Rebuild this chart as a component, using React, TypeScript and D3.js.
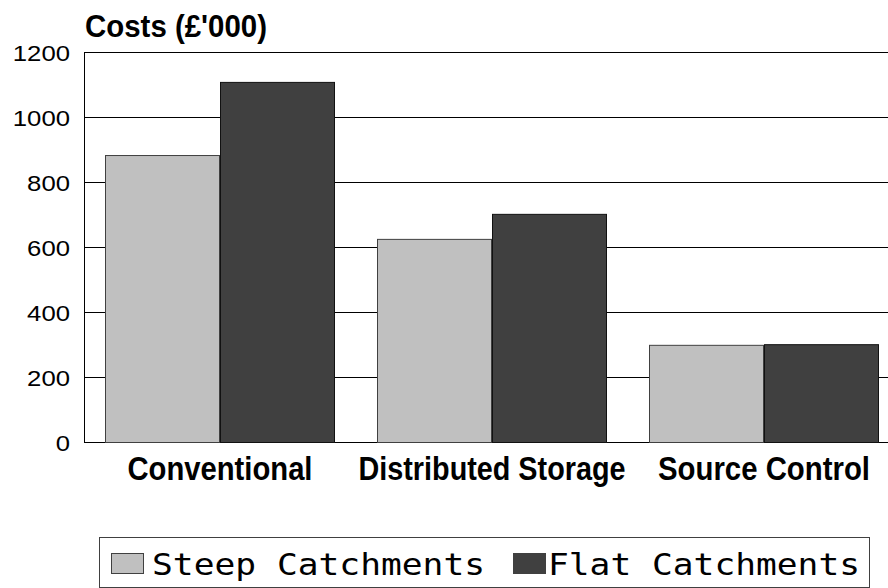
import { useEffect, useRef } from 'react';
import * as d3 from 'd3';

// Costs per scheme, in £'000
const CATEGORIES = ['Conventional', 'Distributed Storage', 'Source Control'];
const SERIES = ['Steep Catchments', 'Flat Catchments'];
const STEEP_VALUES = [883, 625, 299];
const FLAT_VALUES = [1108, 702, 301];
const Y_TICKS = [0, 200, 400, 600, 800, 1000, 1200];

const FILLS = ['#c0c0c0', '#404040'];
const STROKES = ['#404040', '#111111'];

// measured label widths so the stretched look of the original is kept
const CAT_WIDTHS = [185, 267, 212];

export default function App() {
  const svgRef = useRef<SVGSVGElement>(null);

  useEffect(() => {
    if (!svgRef.current) return;
    const svg = d3.select(svgRef.current);
    svg.selectAll('*').remove();

    const left = 84;
    const right = 900; // plot runs past the window edge
    const top = 52;
    const bottom = 442;

    const x0 = d3.scaleBand<string>()
      .domain(CATEGORIES)
      .range([left, right])
      .paddingInner(42 / 272)
      .paddingOuter(21 / 272);

    const x1 = d3.scaleBand<string>()
      .domain(SERIES)
      .range([0, x0.bandwidth()])
      .padding(0);

    const y = d3.scaleLinear().domain([0, 1200]).range([bottom, top]);

    // grid lines (top one doubles as the frame)
    svg.append('g')
      .selectAll('line')
      .data(Y_TICKS)
      .join('line')
      .attr('x1', left)
      .attr('x2', right)
      .attr('y1', d => y(d) + 0.5)
      .attr('y2', d => y(d) + 0.5)
      .attr('stroke', '#000')
      .attr('stroke-width', 1);

    // left axis line
    svg.append('line')
      .attr('x1', left + 0.5)
      .attr('x2', left + 0.5)
      .attr('y1', top)
      .attr('y2', bottom + 1)
      .attr('stroke', '#000');

    // bars
    const values = [STEEP_VALUES, FLAT_VALUES];
    CATEGORIES.forEach((cat, ci) => {
      SERIES.forEach((s, si) => {
        const v = values[si][ci];
        const bx = (x0(cat) || 0) + (x1(s) || 0);
        svg.append('rect')
          .attr('x', bx + 0.5)
          .attr('y', y(v) + 0.5)
          .attr('width', x1.bandwidth() - 1)
          .attr('height', y(0) - y(v))
          .attr('fill', FILLS[si])
          .attr('stroke', STROKES[si])
          .attr('stroke-width', 1);
      });
    });

    // y tick labels
    svg.append('g')
      .selectAll('text')
      .data(Y_TICKS)
      .join('text')
      .attr('x', 70)
      .attr('y', d => y(d) + 8.5)
      .attr('text-anchor', 'end')
      .attr('font-family', '"Liberation Sans", Arial, sans-serif')
      .attr('font-size', '22px')
      .attr('fill', '#000')
      .attr('textLength', d => String(d).length * 14.3)
      .attr('lengthAdjust', 'spacingAndGlyphs')
      .text(d => String(d));

    // category labels (a bit taller than wide, like the original)
    CATEGORIES.forEach((cat, ci) => {
      const cx = (x0(cat) || 0) + x0.bandwidth() / 2;
      svg.append('text')
        .attr('transform', `translate(${cx - CAT_WIDTHS[ci] / 2},480) scale(1,1.07)`)
        .attr('font-family', '"Liberation Sans", Arial, sans-serif')
        .attr('font-size', '31px')
        .attr('font-weight', '700')
        .attr('fill', '#000')
        .attr('textLength', CAT_WIDTHS[ci])
        .attr('lengthAdjust', 'spacingAndGlyphs')
        .text(cat);
    });

    // title
    svg.append('text')
      .attr('x', 85)
      .attr('y', 37)
      .attr('font-family', '"Liberation Sans", Arial, sans-serif')
      .attr('font-size', '31px')
      .attr('font-weight', '700')
      .attr('fill', '#000')
      .attr('textLength', 182)
      .attr('lengthAdjust', 'spacingAndGlyphs')
      .text("Costs (£'000)");

    // legend
    const legend = svg.append('g');
    legend.append('rect')
      .attr('x', 99.5)
      .attr('y', 537.5)
      .attr('width', 770)
      .attr('height', 50)
      .attr('fill', '#fff')
      .attr('stroke', '#404040');

    const swatchX = [111, 513];
    const textX = [152, 548];
    SERIES.forEach((s, si) => {
      legend.append('rect')
        .attr('x', swatchX[si] + 0.5)
        .attr('y', 553.5)
        .attr('width', 32)
        .attr('height', 20)
        .attr('fill', FILLS[si])
        .attr('stroke', '#404040');
      legend.append('text')
        .attr('x', textX[si])
        .attr('y', 575)
        .attr('font-family', '"DejaVu Sans Mono", "Liberation Mono", monospace')
        .attr('font-size', '30px')
        .attr('fill', '#000')
        .attr('textLength', s.length * 21 - 3)
        .attr('lengthAdjust', 'spacingAndGlyphs')
        .text(s);
    });
  }, []);

  return (
    <svg
      ref={svgRef}
      width={888}
      height={588}
      style={{ position: 'absolute', left: 0, top: 0, background: '#fff' }}
    />
  );
}
